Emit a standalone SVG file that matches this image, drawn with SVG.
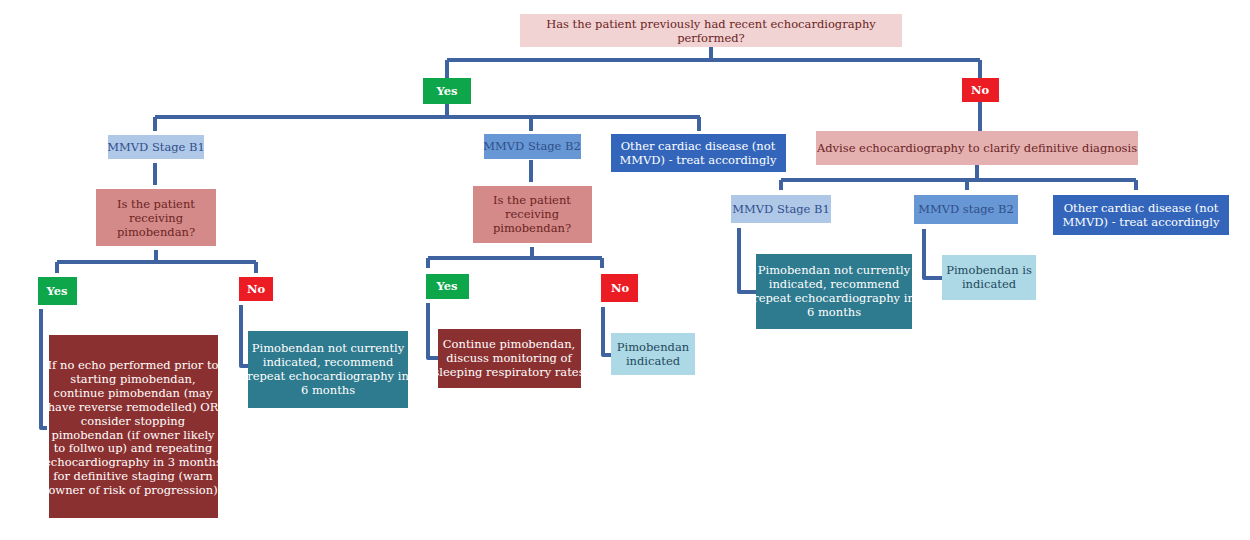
<svg xmlns="http://www.w3.org/2000/svg" width="1250" height="540" viewBox="0 0 1250 540">
<style>
text{font-family:"DejaVu Serif","Liberation Serif",serif;font-size:11.5px;text-anchor:middle}
.w{fill:#fff}.dr{fill:#6b2424}.db{fill:#2f4f8a}.dt{fill:#234a5a}
#conn path{fill:none;stroke:#3f63a0;stroke-width:4;stroke-linejoin:round}
</style>
<rect width="1250" height="540" fill="#fff"/>
<g id="conn">
<path d="M711 47V60M447 60H980M447 60V78M980 60V78"/>
<path d="M447 104V117M155 117H700M155 117V131M531 117V131M699 117V131"/>
<path d="M155 163V185M156 250V262M57 262H256M57 262V273M256 262V273"/>
<path d="M41 309V428H47M241 305V366H248"/>
<path d="M531 160V182M532 247V258M428 258H602M428 258V268M602 258V268"/>
<path d="M428 303V358H438M603 307V355H611"/>
<path d="M980 102V131M977 165V180M781 180H1136M781 180V190M967 180V190M1136 180V190"/>
<path d="M739 228V292H756M924 229V278H942"/>
</g>
<g id="top"><rect x="520" y="14" width="382" height="33" fill="#f2d3d3"/><text class="dr" x="711" y="28">Has the patient previously had recent echocardiography</text><text class="dr" x="711" y="42">performed?</text></g>
<g id="yes1"><rect x="423" y="78" width="48" height="26" fill="#0ea64a"/><text class="w" x="447" y="95" font-weight="bold">Yes</text></g>
<g id="no1"><rect x="962" y="78" width="37" height="24" fill="#ec1c24"/><text class="w" x="980" y="94" font-weight="bold">No</text></g>
<g id="b1"><rect x="108" y="135" width="96" height="24" fill="#b0c8e8"/><text class="db" x="156" y="151">MMVD Stage B1</text></g>
<g id="q1"><rect x="96" y="189" width="120" height="57" fill="#d48a88"/><text class="dr" x="156" y="208">Is the patient</text><text class="dr" x="156" y="222">receiving</text><text class="dr" x="156" y="236">pimobendan?</text></g>
<g id="yes2"><rect x="38" y="277" width="39" height="28" fill="#0ea64a"/><text class="w" x="57" y="295" font-weight="bold">Yes</text></g>
<g id="no2"><rect x="239" y="277" width="34" height="24" fill="#ec1c24"/><text class="w" x="256" y="293" font-weight="bold">No</text></g>
<g id="big"><rect x="49" y="335" width="169" height="183" fill="#8b3030"/>
<text class="w" x="133" y="369">If no echo performed prior to</text><text class="w" x="133" y="383">starting pimobendan,</text><text class="w" x="133" y="397">continue pimobendan (may</text><text class="w" x="133" y="411">have reverse remodelled) OR</text><text class="w" x="133" y="425">consider stopping</text><text class="w" x="133" y="439">pimobendan (if owner likely</text><text class="w" x="133" y="452">to follwo up) and repeating</text><text class="w" x="133" y="466">echocardiography in 3 months</text><text class="w" x="133" y="480">for definitive staging (warn</text><text class="w" x="133" y="494">owner of risk of progression)</text></g>
<g id="t1"><rect x="248" y="331" width="160" height="77" fill="#2e7a8e"/><text class="w" x="328" y="352">Pimobendan not currently</text><text class="w" x="328" y="366">indicated, recommend</text><text class="w" x="328" y="380">repeat echocardiography in</text><text class="w" x="328" y="394">6 months</text></g>
<g id="b2"><rect x="484" y="134" width="97" height="25" fill="#6797d4"/><text class="db" x="532" y="150">MMVD Stage B2</text></g>
<g id="q2"><rect x="473" y="186" width="119" height="57" fill="#d48a88"/><text class="dr" x="532" y="204">Is the patient</text><text class="dr" x="532" y="218">receiving</text><text class="dr" x="532" y="232">pimobendan?</text></g>
<g id="yes3"><rect x="426" y="274" width="43" height="25" fill="#0ea64a"/><text class="w" x="447" y="290" font-weight="bold">Yes</text></g>
<g id="no3"><rect x="601" y="274" width="37" height="28" fill="#ec1c24"/><text class="w" x="620" y="292" font-weight="bold">No</text></g>
<g id="c1"><rect x="438" y="329" width="143" height="59" fill="#8b3030"/><text class="w" x="509" y="348">Continue pimobendan,</text><text class="w" x="509" y="362">discuss monitoring of</text><text class="w" x="509" y="376">sleeping respiratory rates</text></g>
<g id="p1"><rect x="611" y="333" width="84" height="42" fill="#add8e6"/><text class="dt" x="653" y="351">Pimobendan</text><text class="dt" x="653" y="365">indicated</text></g>
<g id="o1"><rect x="611" y="134" width="175" height="38" fill="#3366bb"/><text class="w" x="698" y="150">Other cardiac disease (not</text><text class="w" x="698" y="164">MMVD) - treat accordingly</text></g>
<g id="adv"><rect x="816" y="131" width="322" height="34" fill="#e4b0b0"/><text class="dr" x="977" y="152">Advise echocardiography to clarify definitive diagnosis</text></g>
<g id="rb1"><rect x="731" y="195" width="100" height="28" fill="#b0c8e8"/><text class="db" x="781" y="213">MMVD Stage B1</text></g>
<g id="rb2"><rect x="914" y="195" width="104" height="29" fill="#6797d4"/><text class="db" x="966" y="213">MMVD stage B2</text></g>
<g id="ro"><rect x="1053" y="195" width="176" height="40" fill="#3366bb"/><text class="w" x="1141" y="212">Other cardiac disease (not</text><text class="w" x="1141" y="226">MMVD) - treat accordingly</text></g>
<g id="rt"><rect x="756" y="254" width="156" height="75" fill="#2e7a8e"/><text class="w" x="834" y="274">Pimobendan not currently</text><text class="w" x="834" y="288">indicated, recommend</text><text class="w" x="834" y="302">repeat echocardiography in</text><text class="w" x="834" y="316">6 months</text></g>
<g id="rp"><rect x="942" y="255" width="94" height="45" fill="#add8e6"/><text class="dt" x="989" y="274">Pimobendan is</text><text class="dt" x="989" y="288">indicated</text></g>
</svg>
